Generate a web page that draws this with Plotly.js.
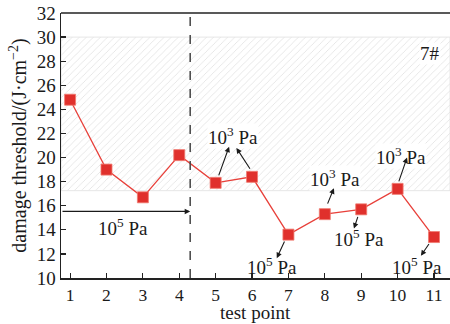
<!DOCTYPE html>
<html>
<head>
<meta charset="utf-8">
<script src="https://cdn.plot.ly/plotly-3.0.1.min.js"></script>
<style>html,body{margin:0;padding:0;background:#fff;overflow:hidden}#chart{width:450px;height:324px}</style>
</head>
<body>
<div id="chart"></div>
<script>
// ---- data ----
const testPoints = [1, 2, 3, 4, 5, 6, 7, 8, 9, 10, 11];
const threshold = [24.8, 19.0, 16.7, 20.2, 17.9, 18.4, 13.6, 15.3, 15.7, 17.4, 13.4];
const xTicks = [1, 2, 3, 4, 5, 6, 7, 8, 9, 10, 11];
const yTicks = [10, 12, 14, 16, 18, 20, 22, 24, 26, 28, 30, 32];
const hatchBand = [17.25, 30];      // shaded band (y range)
const dividerX = 4.3;               // dashed divider between pressure regimes
const xRange = [0.75, 11.44];
const yRange = [10, 32];
const sampleLabel = '7#';
const lowLabel = '10<sup>5</sup> Pa';
const highLabel = '10<sup>3</sup> Pa';
const xTitle = 'test point';
const yTitle = 'damage threshold/(J·cm<sup>−2</sup>)';
// label positions [x, y]
const labels = [
  {t: lowLabel, pos: [2.44, 14.25], bg: false},
  {t: highLabel, pos: [5.49, 21.8], bg: true},
  {t: highLabel, pos: [8.27, 18.3], bg: true},
  {t: highLabel, pos: [10.09, 20.1], bg: true},
  {t: lowLabel, pos: [6.54, 11.0], bg: false},
  {t: lowLabel, pos: [8.94, 13.35], bg: false},
  {t: lowLabel, pos: [10.53, 11.0], bg: false},
  {t: sampleLabel, pos: [10.89, 28.6], bg: true}
];
// arrows: [tailX, tailY, headX, headY]
const arrows = [
  [xRange[0], 15.53, dividerX, 15.53],
  [5.07, 18.4, 5.37, 20.9],
  [5.97, 18.95, 5.57, 20.8],
  [8.06, 16.05, 8.25, 17.45],
  [10.02, 17.9, 10.26, 20.0],
  [6.91, 13.15, 6.68, 11.65],
  [8.92, 15.2, 8.8, 14.1],
  [10.89, 12.95, 10.64, 11.85]
];

const FONT = 'Liberation Serif, Times New Roman, serif';

const hatch = {
  x: [xRange[0], xRange[1], xRange[1], xRange[0], xRange[0]],
  y: [hatchBand[0], hatchBand[0], hatchBand[1], hatchBand[1], hatchBand[0]],
  mode: 'lines',
  fill: 'toself',
  fillcolor: 'rgba(0,0,0,0)',
  fillpattern: {shape: '/', size: 5, solidity: 0.12, fgcolor: '#d9d9d9', bgcolor: '#ffffff'},
  line: {color: '#e6e6e6', width: 1},
  hoverinfo: 'skip',
  showlegend: false
};

const series = {
  x: testPoints,
  y: threshold,
  mode: 'lines+markers',
  line: {color: '#e8403a', width: 1.3},
  marker: {symbol: 'square', size: 11, color: '#e0302c', line: {color: '#f07a70', width: 0.8}},
  showlegend: false
};

const annotations = [];
labels.forEach(l => {
  annotations.push({
    x: l.pos[0], y: l.pos[1], xref: 'x', yref: 'y',
    text: l.t, showarrow: false,
    font: {family: FONT, size: 19, color: '#1a1a1a'},
    bgcolor: l.bg ? '#ffffff' : 'rgba(0,0,0,0)',
    borderpad: 0
  });
});
arrows.forEach(a => {
  annotations.push({
    x: a[2], y: a[3], ax: a[0], ay: a[1],
    xref: 'x', yref: 'y', axref: 'x', ayref: 'y',
    text: '', showarrow: true,
    arrowhead: 2, arrowsize: 1, arrowwidth: 1.1, arrowcolor: '#1a1a1a'
  });
});
// x-axis title placed as annotation for exact vertical position
annotations.push({
  x: 0.5, y: -0.172, xref: 'paper', yref: 'paper', yanchor: 'bottom',
  text: xTitle, showarrow: false, borderpad: 0,
  font: {family: FONT, size: 19, color: '#1a1a1a'}
});

const layout = {
  width: 450, height: 324,
  margin: {l: 61, r: 0, t: 13, b: 46},
  paper_bgcolor: '#ffffff', plot_bgcolor: '#ffffff',
  font: {family: FONT, size: 19, color: '#1a1a1a'},
  showlegend: false,
  xaxis: {
    range: xRange, tickmode: 'array', tickvals: xTicks, ticktext: xTicks.map(String),
    ticks: 'inside', ticklen: 5, tickwidth: 1.2, tickcolor: '#222',
    showline: true, linecolor: '#222', linewidth: 1.5, showgrid: false, zeroline: false,
    tickfont: {family: FONT, size: 17.5, color: '#1a1a1a'}
  },
  yaxis: {
    range: yRange, tickmode: 'array', tickvals: yTicks, ticktext: yTicks.map(String),
    ticks: 'inside', ticklen: 5, tickwidth: 1.2, tickcolor: '#222',
    showline: true, linecolor: '#222', linewidth: 1.5, showgrid: false, zeroline: false,
    tickfont: {family: FONT, size: 19, color: '#1a1a1a'},
    title: {text: yTitle, font: {family: FONT, size: 20, color: '#1a1a1a'}, standoff: 4}
  },
  shapes: [
    {type: 'line', xref: 'x', yref: 'paper', x0: dividerX, x1: dividerX, y0: 0, y1: 1,
     line: {color: '#444', width: 1.5, dash: 'dash'}},
    {type: 'line', xref: 'paper', yref: 'paper', x0: 0, x1: 1, y0: 1, y1: 1,
     line: {color: '#222', width: 1.5}}
  ],
  annotations: annotations
};

Plotly.newPlot('chart', [hatch, series], layout, {staticPlot: true, displayModeBar: false});
</script>
</body>
</html>
